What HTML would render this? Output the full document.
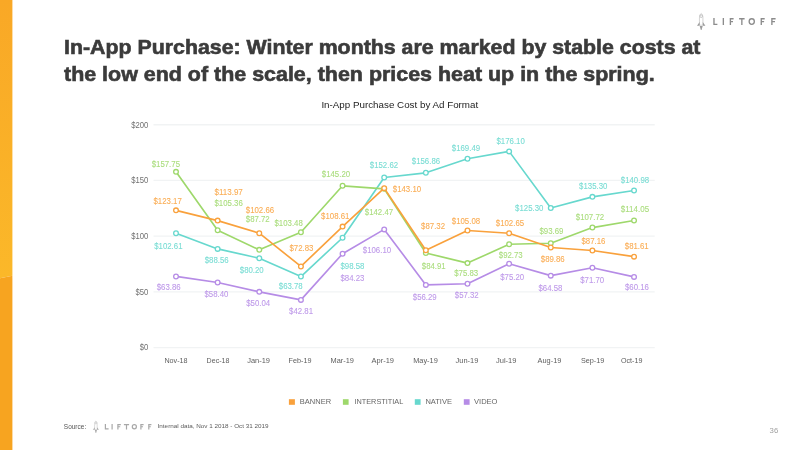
<!DOCTYPE html>
<html><head><meta charset="utf-8"><style>
html,body{margin:0;padding:0;background:#fff;}
body{width:800px;height:450px;overflow:hidden;position:relative;font-family:"Liberation Sans",sans-serif;}
#wrap{position:absolute;left:0;top:0;width:800px;height:450px;will-change:transform;}
.t{position:absolute;white-space:nowrap;}
.tl{left:63.9px;-webkit-text-stroke:0.6px #3B3B3B;font-size:20.0px;font-weight:bold;color:#3B3B3B;line-height:20px;transform-origin:0 0;}
svg{position:absolute;left:0;top:0;}
.ya{font-size:8.3px;fill:#707070;}
.xa{font-size:7.3px;fill:#5E5E5E;}
.dl{font-size:8.3px;stroke-width:0.1px;opacity:0.88;}
.lg{font-size:7.7px;fill:#666;}
</style></head><body><div id="wrap">
<svg width="800" height="450" viewBox="0 0 800 450">
<defs><linearGradient id="bg1" x1="0" y1="0" x2="0" y2="1"><stop offset="0" stop-color="#F9A826"/><stop offset="1" stop-color="#FBB829"/></linearGradient></defs>
<polygon points="0,0 12.4,0 12.4,275.7 0,278.2" fill="url(#bg1)"/>
<polygon points="0,278.2 12.4,275.7 12.4,450 0,450" fill="#F7A420"/>
<line x1="153.5" x2="654.7" y1="124.75" y2="124.75" stroke="#F1F3F4" stroke-width="1.3"/><text x="148.3" y="127.50" text-anchor="end" class="ya" textLength="17.12" lengthAdjust="spacingAndGlyphs">$200</text><line x1="153.5" x2="654.7" y1="180.46" y2="180.46" stroke="#F1F3F4" stroke-width="1.3"/><text x="148.3" y="183.21" text-anchor="end" class="ya" textLength="17.12" lengthAdjust="spacingAndGlyphs">$150</text><line x1="153.5" x2="654.7" y1="236.18" y2="236.18" stroke="#F1F3F4" stroke-width="1.3"/><text x="148.3" y="238.93" text-anchor="end" class="ya" textLength="17.12" lengthAdjust="spacingAndGlyphs">$100</text><line x1="153.5" x2="654.7" y1="291.89" y2="291.89" stroke="#F1F3F4" stroke-width="1.3"/><text x="148.3" y="294.64" text-anchor="end" class="ya" textLength="12.84" lengthAdjust="spacingAndGlyphs">$50</text><line x1="153.5" x2="654.7" y1="347.60" y2="347.60" stroke="#F1F3F4" stroke-width="1.3"/><text x="148.3" y="350.35" text-anchor="end" class="ya" textLength="8.56" lengthAdjust="spacingAndGlyphs">$0</text><text x="164.40" y="363.2" class="xa" textLength="23.20" lengthAdjust="spacingAndGlyphs">Nov-18</text><text x="206.60" y="363.2" class="xa" textLength="22.80" lengthAdjust="spacingAndGlyphs">Dec-18</text><text x="247.20" y="363.2" class="xa" textLength="22.80" lengthAdjust="spacingAndGlyphs">Jan-19</text><text x="288.60" y="363.2" class="xa" textLength="22.80" lengthAdjust="spacingAndGlyphs">Feb-19</text><text x="330.60" y="363.2" class="xa" textLength="23.40" lengthAdjust="spacingAndGlyphs">Mar-19</text><text x="371.60" y="363.2" class="xa" textLength="22.40" lengthAdjust="spacingAndGlyphs">Apr-19</text><text x="413.20" y="363.2" class="xa" textLength="24.60" lengthAdjust="spacingAndGlyphs">May-19</text><text x="455.60" y="363.2" class="xa" textLength="22.80" lengthAdjust="spacingAndGlyphs">Jun-19</text><text x="496.00" y="363.2" class="xa" textLength="20.40" lengthAdjust="spacingAndGlyphs">Jul-19</text><text x="537.60" y="363.2" class="xa" textLength="23.80" lengthAdjust="spacingAndGlyphs">Aug-19</text><text x="580.90" y="363.2" class="xa" textLength="23.40" lengthAdjust="spacingAndGlyphs">Sep-19</text><text x="621.00" y="363.2" class="xa" textLength="21.40" lengthAdjust="spacingAndGlyphs">Oct-19</text><polyline points="176.00,276.44 217.64,282.53 259.28,291.84 300.92,299.90 342.56,253.75 384.20,229.38 425.84,284.88 467.48,283.73 509.12,263.81 550.76,275.64 592.40,267.71 634.04,276.90" fill="none" stroke="#B68CE6" stroke-width="1.65" stroke-linejoin="round"/><circle cx="176.00" cy="276.44" r="2.35" fill="#fff" stroke="#B68CE6" stroke-width="1.3"/><circle cx="217.64" cy="282.53" r="2.35" fill="#fff" stroke="#B68CE6" stroke-width="1.3"/><circle cx="259.28" cy="291.84" r="2.35" fill="#fff" stroke="#B68CE6" stroke-width="1.3"/><circle cx="300.92" cy="299.90" r="2.35" fill="#fff" stroke="#B68CE6" stroke-width="1.3"/><circle cx="342.56" cy="253.75" r="2.35" fill="#fff" stroke="#B68CE6" stroke-width="1.3"/><circle cx="384.20" cy="229.38" r="2.35" fill="#fff" stroke="#B68CE6" stroke-width="1.3"/><circle cx="425.84" cy="284.88" r="2.35" fill="#fff" stroke="#B68CE6" stroke-width="1.3"/><circle cx="467.48" cy="283.73" r="2.35" fill="#fff" stroke="#B68CE6" stroke-width="1.3"/><circle cx="509.12" cy="263.81" r="2.35" fill="#fff" stroke="#B68CE6" stroke-width="1.3"/><circle cx="550.76" cy="275.64" r="2.35" fill="#fff" stroke="#B68CE6" stroke-width="1.3"/><circle cx="592.40" cy="267.71" r="2.35" fill="#fff" stroke="#B68CE6" stroke-width="1.3"/><circle cx="634.04" cy="276.90" r="2.35" fill="#fff" stroke="#B68CE6" stroke-width="1.3"/><polyline points="176.00,233.27 217.64,248.92 259.28,258.24 300.92,276.53 342.56,237.76 384.20,177.54 425.84,172.82 467.48,158.75 509.12,151.38 550.76,207.98 592.40,196.84 634.04,190.51" fill="none" stroke="#67D8CE" stroke-width="1.65" stroke-linejoin="round"/><circle cx="176.00" cy="233.27" r="2.35" fill="#fff" stroke="#67D8CE" stroke-width="1.3"/><circle cx="217.64" cy="248.92" r="2.35" fill="#fff" stroke="#67D8CE" stroke-width="1.3"/><circle cx="259.28" cy="258.24" r="2.35" fill="#fff" stroke="#67D8CE" stroke-width="1.3"/><circle cx="300.92" cy="276.53" r="2.35" fill="#fff" stroke="#67D8CE" stroke-width="1.3"/><circle cx="342.56" cy="237.76" r="2.35" fill="#fff" stroke="#67D8CE" stroke-width="1.3"/><circle cx="384.20" cy="177.54" r="2.35" fill="#fff" stroke="#67D8CE" stroke-width="1.3"/><circle cx="425.84" cy="172.82" r="2.35" fill="#fff" stroke="#67D8CE" stroke-width="1.3"/><circle cx="467.48" cy="158.75" r="2.35" fill="#fff" stroke="#67D8CE" stroke-width="1.3"/><circle cx="509.12" cy="151.38" r="2.35" fill="#fff" stroke="#67D8CE" stroke-width="1.3"/><circle cx="550.76" cy="207.98" r="2.35" fill="#fff" stroke="#67D8CE" stroke-width="1.3"/><circle cx="592.40" cy="196.84" r="2.35" fill="#fff" stroke="#67D8CE" stroke-width="1.3"/><circle cx="634.04" cy="190.51" r="2.35" fill="#fff" stroke="#67D8CE" stroke-width="1.3"/><polyline points="176.00,171.83 217.64,230.20 259.28,249.86 300.92,232.30 342.56,185.81 384.20,188.85 425.84,252.99 467.48,263.11 509.12,244.28 550.76,243.21 592.40,227.57 634.04,220.52" fill="none" stroke="#9ED86B" stroke-width="1.65" stroke-linejoin="round"/><circle cx="176.00" cy="171.83" r="2.35" fill="#fff" stroke="#9ED86B" stroke-width="1.3"/><circle cx="217.64" cy="230.20" r="2.35" fill="#fff" stroke="#9ED86B" stroke-width="1.3"/><circle cx="259.28" cy="249.86" r="2.35" fill="#fff" stroke="#9ED86B" stroke-width="1.3"/><circle cx="300.92" cy="232.30" r="2.35" fill="#fff" stroke="#9ED86B" stroke-width="1.3"/><circle cx="342.56" cy="185.81" r="2.35" fill="#fff" stroke="#9ED86B" stroke-width="1.3"/><circle cx="384.20" cy="188.85" r="2.35" fill="#fff" stroke="#9ED86B" stroke-width="1.3"/><circle cx="425.84" cy="252.99" r="2.35" fill="#fff" stroke="#9ED86B" stroke-width="1.3"/><circle cx="467.48" cy="263.11" r="2.35" fill="#fff" stroke="#9ED86B" stroke-width="1.3"/><circle cx="509.12" cy="244.28" r="2.35" fill="#fff" stroke="#9ED86B" stroke-width="1.3"/><circle cx="550.76" cy="243.21" r="2.35" fill="#fff" stroke="#9ED86B" stroke-width="1.3"/><circle cx="592.40" cy="227.57" r="2.35" fill="#fff" stroke="#9ED86B" stroke-width="1.3"/><circle cx="634.04" cy="220.52" r="2.35" fill="#fff" stroke="#9ED86B" stroke-width="1.3"/><polyline points="176.00,210.36 217.64,220.61 259.28,233.21 300.92,266.45 342.56,226.58 384.20,188.15 425.84,250.30 467.48,230.51 509.12,233.22 550.76,247.47 592.40,250.48 634.04,256.67" fill="none" stroke="#F9A13C" stroke-width="1.65" stroke-linejoin="round"/><circle cx="176.00" cy="210.36" r="2.35" fill="#fff" stroke="#F9A13C" stroke-width="1.3"/><circle cx="217.64" cy="220.61" r="2.35" fill="#fff" stroke="#F9A13C" stroke-width="1.3"/><circle cx="259.28" cy="233.21" r="2.35" fill="#fff" stroke="#F9A13C" stroke-width="1.3"/><circle cx="300.92" cy="266.45" r="2.35" fill="#fff" stroke="#F9A13C" stroke-width="1.3"/><circle cx="342.56" cy="226.58" r="2.35" fill="#fff" stroke="#F9A13C" stroke-width="1.3"/><circle cx="384.20" cy="188.15" r="2.35" fill="#fff" stroke="#F9A13C" stroke-width="1.3"/><circle cx="425.84" cy="250.30" r="2.35" fill="#fff" stroke="#F9A13C" stroke-width="1.3"/><circle cx="467.48" cy="230.51" r="2.35" fill="#fff" stroke="#F9A13C" stroke-width="1.3"/><circle cx="509.12" cy="233.22" r="2.35" fill="#fff" stroke="#F9A13C" stroke-width="1.3"/><circle cx="550.76" cy="247.47" r="2.35" fill="#fff" stroke="#F9A13C" stroke-width="1.3"/><circle cx="592.40" cy="250.48" r="2.35" fill="#fff" stroke="#F9A13C" stroke-width="1.3"/><circle cx="634.04" cy="256.67" r="2.35" fill="#fff" stroke="#F9A13C" stroke-width="1.3"/><text x="153.50" y="204.00" class="dl" fill="#F9A13C" stroke="#F9A13C" textLength="28.30" lengthAdjust="spacingAndGlyphs">$123.17</text><text x="214.50" y="195.00" class="dl" fill="#F9A13C" stroke="#F9A13C" textLength="28.30" lengthAdjust="spacingAndGlyphs">$113.97</text><text x="245.80" y="213.30" class="dl" fill="#F9A13C" stroke="#F9A13C" textLength="28.30" lengthAdjust="spacingAndGlyphs">$102.66</text><text x="289.50" y="250.70" class="dl" fill="#F9A13C" stroke="#F9A13C" textLength="23.94" lengthAdjust="spacingAndGlyphs">$72.83</text><text x="321.10" y="218.70" class="dl" fill="#F9A13C" stroke="#F9A13C" textLength="28.30" lengthAdjust="spacingAndGlyphs">$108.61</text><text x="392.80" y="192.00" class="dl" fill="#F9A13C" stroke="#F9A13C" textLength="28.30" lengthAdjust="spacingAndGlyphs">$143.10</text><text x="421.10" y="229.30" class="dl" fill="#F9A13C" stroke="#F9A13C" textLength="23.94" lengthAdjust="spacingAndGlyphs">$87.32</text><text x="451.80" y="223.70" class="dl" fill="#F9A13C" stroke="#F9A13C" textLength="28.30" lengthAdjust="spacingAndGlyphs">$105.08</text><text x="495.80" y="226.30" class="dl" fill="#F9A13C" stroke="#F9A13C" textLength="28.30" lengthAdjust="spacingAndGlyphs">$102.65</text><text x="540.80" y="262.30" class="dl" fill="#F9A13C" stroke="#F9A13C" textLength="23.94" lengthAdjust="spacingAndGlyphs">$89.86</text><text x="581.50" y="243.70" class="dl" fill="#F9A13C" stroke="#F9A13C" textLength="23.94" lengthAdjust="spacingAndGlyphs">$87.16</text><text x="624.80" y="248.70" class="dl" fill="#F9A13C" stroke="#F9A13C" textLength="23.94" lengthAdjust="spacingAndGlyphs">$81.61</text><text x="151.70" y="166.75" class="dl" fill="#9ED86B" stroke="#9ED86B" textLength="28.30" lengthAdjust="spacingAndGlyphs">$157.75</text><text x="214.50" y="205.70" class="dl" fill="#9ED86B" stroke="#9ED86B" textLength="28.30" lengthAdjust="spacingAndGlyphs">$105.36</text><text x="245.80" y="222.00" class="dl" fill="#9ED86B" stroke="#9ED86B" textLength="23.94" lengthAdjust="spacingAndGlyphs">$87.72</text><text x="274.50" y="226.30" class="dl" fill="#9ED86B" stroke="#9ED86B" textLength="28.30" lengthAdjust="spacingAndGlyphs">$103.48</text><text x="321.80" y="177.30" class="dl" fill="#9ED86B" stroke="#9ED86B" textLength="28.30" lengthAdjust="spacingAndGlyphs">$145.20</text><text x="364.80" y="214.70" class="dl" fill="#9ED86B" stroke="#9ED86B" textLength="28.30" lengthAdjust="spacingAndGlyphs">$142.47</text><text x="421.80" y="269.00" class="dl" fill="#9ED86B" stroke="#9ED86B" textLength="23.94" lengthAdjust="spacingAndGlyphs">$84.91</text><text x="454.20" y="275.60" class="dl" fill="#9ED86B" stroke="#9ED86B" textLength="23.94" lengthAdjust="spacingAndGlyphs">$75.83</text><text x="498.80" y="257.70" class="dl" fill="#9ED86B" stroke="#9ED86B" textLength="23.94" lengthAdjust="spacingAndGlyphs">$92.73</text><text x="539.50" y="233.60" class="dl" fill="#9ED86B" stroke="#9ED86B" textLength="23.94" lengthAdjust="spacingAndGlyphs">$93.69</text><text x="575.80" y="220.00" class="dl" fill="#9ED86B" stroke="#9ED86B" textLength="28.30" lengthAdjust="spacingAndGlyphs">$107.72</text><text x="620.80" y="212.40" class="dl" fill="#9ED86B" stroke="#9ED86B" textLength="28.30" lengthAdjust="spacingAndGlyphs">$114.05</text><text x="154.20" y="249.00" class="dl" fill="#67D8CE" stroke="#67D8CE" textLength="28.30" lengthAdjust="spacingAndGlyphs">$102.61</text><text x="204.70" y="263.30" class="dl" fill="#67D8CE" stroke="#67D8CE" textLength="23.94" lengthAdjust="spacingAndGlyphs">$88.56</text><text x="239.80" y="273.00" class="dl" fill="#67D8CE" stroke="#67D8CE" textLength="23.94" lengthAdjust="spacingAndGlyphs">$80.20</text><text x="278.80" y="288.70" class="dl" fill="#67D8CE" stroke="#67D8CE" textLength="23.94" lengthAdjust="spacingAndGlyphs">$63.78</text><text x="340.50" y="269.00" class="dl" fill="#67D8CE" stroke="#67D8CE" textLength="23.94" lengthAdjust="spacingAndGlyphs">$98.58</text><text x="369.80" y="168.30" class="dl" fill="#67D8CE" stroke="#67D8CE" textLength="28.30" lengthAdjust="spacingAndGlyphs">$152.62</text><text x="411.80" y="164.00" class="dl" fill="#67D8CE" stroke="#67D8CE" textLength="28.30" lengthAdjust="spacingAndGlyphs">$156.86</text><text x="451.80" y="150.70" class="dl" fill="#67D8CE" stroke="#67D8CE" textLength="28.30" lengthAdjust="spacingAndGlyphs">$169.49</text><text x="496.50" y="143.70" class="dl" fill="#67D8CE" stroke="#67D8CE" textLength="28.30" lengthAdjust="spacingAndGlyphs">$176.10</text><text x="515.10" y="210.70" class="dl" fill="#67D8CE" stroke="#67D8CE" textLength="28.30" lengthAdjust="spacingAndGlyphs">$125.30</text><text x="579.10" y="189.00" class="dl" fill="#67D8CE" stroke="#67D8CE" textLength="28.30" lengthAdjust="spacingAndGlyphs">$135.30</text><text x="620.80" y="182.70" class="dl" fill="#67D8CE" stroke="#67D8CE" textLength="28.30" lengthAdjust="spacingAndGlyphs">$140.98</text><text x="156.70" y="289.70" class="dl" fill="#B68CE6" stroke="#B68CE6" textLength="23.94" lengthAdjust="spacingAndGlyphs">$63.86</text><text x="204.50" y="297.30" class="dl" fill="#B68CE6" stroke="#B68CE6" textLength="23.94" lengthAdjust="spacingAndGlyphs">$58.40</text><text x="246.20" y="306.40" class="dl" fill="#B68CE6" stroke="#B68CE6" textLength="23.94" lengthAdjust="spacingAndGlyphs">$50.04</text><text x="289.10" y="314.30" class="dl" fill="#B68CE6" stroke="#B68CE6" textLength="23.94" lengthAdjust="spacingAndGlyphs">$42.81</text><text x="340.50" y="281.00" class="dl" fill="#B68CE6" stroke="#B68CE6" textLength="23.94" lengthAdjust="spacingAndGlyphs">$84.23</text><text x="362.80" y="252.70" class="dl" fill="#B68CE6" stroke="#B68CE6" textLength="28.30" lengthAdjust="spacingAndGlyphs">$106.10</text><text x="412.80" y="300.40" class="dl" fill="#B68CE6" stroke="#B68CE6" textLength="23.94" lengthAdjust="spacingAndGlyphs">$56.29</text><text x="454.80" y="298.40" class="dl" fill="#B68CE6" stroke="#B68CE6" textLength="23.94" lengthAdjust="spacingAndGlyphs">$57.32</text><text x="500.20" y="279.70" class="dl" fill="#B68CE6" stroke="#B68CE6" textLength="23.94" lengthAdjust="spacingAndGlyphs">$75.20</text><text x="538.50" y="290.70" class="dl" fill="#B68CE6" stroke="#B68CE6" textLength="23.94" lengthAdjust="spacingAndGlyphs">$64.58</text><text x="580.20" y="282.70" class="dl" fill="#B68CE6" stroke="#B68CE6" textLength="23.94" lengthAdjust="spacingAndGlyphs">$71.70</text><text x="625.00" y="290.00" class="dl" fill="#B68CE6" stroke="#B68CE6" textLength="23.94" lengthAdjust="spacingAndGlyphs">$60.16</text>
<rect x="288.9" y="399.2" width="6" height="5.6" fill="#F9A13C"/>
<text x="299.8" y="404.1" class="lg" textLength="31.3" lengthAdjust="spacingAndGlyphs">BANNER</text>
<rect x="342.9" y="399.2" width="5.7" height="5.6" fill="#9ED86B"/>
<text x="354.4" y="404.1" class="lg" textLength="48.9" lengthAdjust="spacingAndGlyphs">INTERSTITIAL</text>
<rect x="414.8" y="399.2" width="5.8" height="5.6" fill="#67D8CE"/>
<text x="425.4" y="404.1" class="lg" textLength="26.6" lengthAdjust="spacingAndGlyphs">NATIVE</text>
<rect x="463.8" y="399.2" width="5.8" height="5.6" fill="#B68CE6"/>
<text x="474.0" y="404.1" class="lg" textLength="23.5" lengthAdjust="spacingAndGlyphs">VIDEO</text>
<text x="321.4" y="108.3" style="font-size:9.95px;fill:#222" textLength="156.8" lengthAdjust="spacingAndGlyphs">In-App Purchase Cost by Ad Format</text>
<text x="63.8" y="428.8" style="font-size:6.4px;fill:#555" textLength="22.4" lengthAdjust="spacingAndGlyphs">Source:</text>
<text x="157.6" y="428.2" style="font-size:5.9px;fill:#5A5A5A" textLength="111" lengthAdjust="spacingAndGlyphs">Internal data, Nov 1 2018 - Oct 31 2019</text>
<text x="769.6" y="432.8" style="font-size:8px;fill:#A0A0A0" textLength="8.6" lengthAdjust="spacingAndGlyphs">36</text>
<path d="M713.97 18.10V25.00 M713.30 24.32H717.40 M723.35 18.10V25.00 M730.38 18.10V25.00 M729.70 18.78H733.60 M729.70 21.55H733.00 M761.27 18.10V25.00 M760.60 18.78H764.70 M760.60 21.55H764.10 M771.88 18.10V25.00 M771.20 18.78H775.60 M771.20 21.55H775.00 M739.10 18.78H744.60 M741.85 18.10V25.00" stroke="#8C8C8C" stroke-width="1.35" fill="none"/><ellipse cx="751.75" cy="21.55" rx="2.58" ry="2.77" stroke="#8C8C8C" stroke-width="1.35" fill="none"/><path d="M105.40 424.10V429.40 M104.80 428.80H108.60 M112.10 424.10V429.40 M117.90 424.10V429.40 M117.30 424.70H120.80 M117.30 426.75H120.20 M140.90 424.10V429.40 M140.30 424.70H143.60 M140.30 426.75H143.00 M148.80 424.10V429.40 M148.20 424.70H151.40 M148.20 426.75H150.80 M123.90 424.70H129.10 M126.50 424.10V429.40" stroke="#A8A8A8" stroke-width="1.2" fill="none"/><ellipse cx="134.35" cy="426.75" rx="2.05" ry="2.05" stroke="#A8A8A8" stroke-width="1.2" fill="none"/><path d="M699.45 25.20 L699.45 18.00 C699.40 15.60 700.20 14.00 701.20 13.40 C702.20 14.00 703.00 15.60 702.95 18.00 L702.95 25.20 Z" fill="none" stroke="#C2C2C2" stroke-width="0.70"/><circle cx="701.20" cy="16.15" r="1.30" fill="#fff" stroke="#9C9C9C" stroke-width="0.56"/><path d="M699.60 22.00 L697.00 25.70 L699.60 25.70 Z M702.80 22.00 L705.40 25.70 L702.80 25.70 Z" fill="#9C9C9C"/><path d="M699.70 26.00 L702.70 26.00 L701.55 30.00 L700.85 30.00 Z" fill="#9C9C9C"/><path d="M94.64 429.50 L94.64 424.31 C94.60 422.58 95.18 421.43 95.90 421.00 C96.62 421.43 97.20 422.58 97.16 424.31 L97.16 429.50 Z" fill="none" stroke="#C4C4C4" stroke-width="0.60"/><circle cx="95.90" cy="422.98" r="0.94" fill="#fff" stroke="#AAAAAA" stroke-width="0.48"/><path d="M94.75 427.19 L92.88 429.86 L94.75 429.86 Z M97.05 427.19 L98.92 429.86 L97.05 429.86 Z" fill="#AAAAAA"/><path d="M94.82 430.07 L96.98 430.07 L96.15 432.95 L95.65 432.95 Z" fill="#AAAAAA"/>
</svg>
<div class="t tl" style="top:37.0px;transform:scaleX(1.0667);">In-App Purchase: Winter months are marked by stable costs at</div>
<div class="t tl" style="top:63.6px;transform:scaleX(1.0717);">the low end of the scale, then prices heat up in the spring.</div>
</div></body></html>
